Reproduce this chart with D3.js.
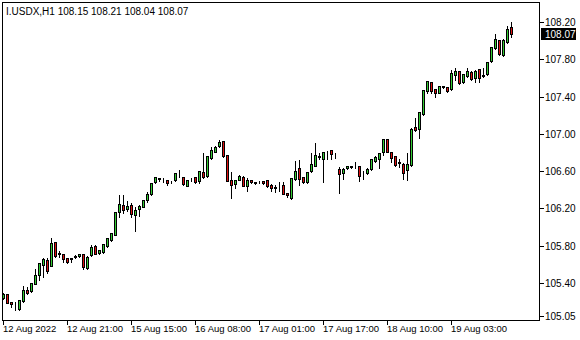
<!DOCTYPE html>
<html>
<head>
<meta charset="utf-8">
<script src="https://cdn.jsdelivr.net/npm/d3@7"></script>
<style>
  body { margin: 0; background: #fff; }
  text { font-family: "Liberation Sans", Arial, sans-serif; font-size: 9.5px; fill: #000; }
  .y-axis text, .title, .last-price { font-size: 10px; }
</style>
</head>
<body>
<div id="chart"></div>
<script>
// hourly bars, I.USDX H1
var opens = [
  105.24,105.28,105.20,105.19,105.12,105.21,105.33,105.31,105.39,105.49,
  105.59,105.65,105.58,105.84,105.71,105.71,105.67,105.66,105.68,105.69,
  105.71,105.56,105.70,105.80,105.72,105.73,105.80,105.86,105.92,106.16,
  106.24,106.19,106.24,106.13,106.19,106.22,106.29,106.35,106.48,106.53,
  106.51,106.50,106.49,106.50,106.56,106.54,106.44,106.52,106.54,106.49,
  106.59,106.55,106.74,106.81,106.87,106.92,106.77,106.50,106.46,106.51,
  106.54,106.44,106.50,106.48,106.48,106.49,106.50,106.45,106.43,106.43,
  106.45,106.36,106.31,106.52,106.63,106.54,106.48,106.60,106.66,106.75,
  106.73,106.80,106.83,106.76,106.62,106.58,106.63,106.66,106.65,106.66,
  106.57,106.58,106.62,106.71,106.73,106.80,106.94,106.81,106.76,106.69,
  106.68,106.61,106.67,107.07,107.05,107.21,107.46,107.56,107.48,107.44,
  107.50,107.50,107.48,107.63,107.67,107.56,107.62,107.66,107.60,107.70,
  107.62,107.64,107.78,107.92,108.01,107.85,107.99,108.15
];
var highs = [
  105.30,105.29,105.21,105.21,105.23,105.38,105.37,105.40,105.56,105.61,
  105.68,105.68,105.89,105.85,105.75,105.72,105.68,105.68,105.71,105.72,
  105.72,105.70,105.82,105.82,105.76,105.83,105.89,105.95,106.17,106.35,
  106.35,106.29,106.27,106.23,106.25,106.30,106.39,106.48,106.55,106.54,
  106.54,106.52,106.51,106.59,106.62,106.55,106.51,106.54,106.55,106.61,
  106.81,106.77,106.87,106.88,106.94,106.93,106.78,106.60,106.52,106.57,
  106.56,106.54,106.52,106.49,106.50,106.50,106.52,106.47,106.46,106.49,
  106.49,106.38,106.54,106.72,106.73,106.55,106.60,106.81,106.91,106.81,
  106.82,106.83,106.84,106.80,106.66,106.64,106.66,106.67,106.71,106.67,
  106.61,106.64,106.73,106.77,106.80,106.96,106.95,106.82,106.77,106.74,
  106.70,106.80,107.07,107.18,107.24,107.48,107.57,107.56,107.49,107.52,
  107.52,107.51,107.70,107.72,107.68,107.65,107.72,107.68,107.70,107.71,
  107.72,107.77,107.94,108.08,108.02,108.03,108.17,108.21
];
var lows = [
  105.23,105.18,105.14,105.11,105.11,105.20,105.28,105.30,105.39,105.43,
  105.46,105.51,105.58,105.68,105.68,105.63,105.61,105.63,105.67,105.68,
  105.55,105.55,105.69,105.71,105.71,105.72,105.79,105.85,105.91,106.11,
  106.15,106.17,106.11,105.96,106.12,106.21,106.27,106.34,106.47,106.49,
  106.48,106.45,106.47,106.49,106.54,106.45,106.44,106.49,106.47,106.47,
  106.53,106.54,106.73,106.80,106.86,106.75,106.49,106.31,106.42,106.50,
  106.44,106.39,106.47,106.46,106.47,106.46,106.43,106.39,106.38,106.39,
  106.35,106.32,106.30,106.51,106.45,106.47,106.47,106.59,106.65,106.73,
  106.48,106.73,106.73,106.74,106.37,106.52,106.62,106.63,106.63,106.49,
  106.52,106.57,106.61,106.70,106.63,106.77,106.80,106.70,106.65,106.64,
  106.52,106.51,106.65,107.03,106.96,107.20,107.44,107.44,107.39,107.44,
  107.49,107.45,107.47,107.58,107.54,107.55,107.61,107.58,107.56,107.56,
  107.61,107.63,107.77,107.91,107.85,107.83,107.98,108.04
];
var closes = [
  105.28,105.19,105.17,105.18,105.22,105.32,105.29,105.40,105.49,105.61,
  105.66,105.53,105.83,105.69,105.72,105.66,105.63,105.67,105.69,105.71,
  105.57,105.68,105.79,105.71,105.75,105.82,105.88,105.94,106.16,106.25,
  106.18,106.23,106.14,106.18,106.23,106.29,106.35,106.47,106.54,106.52,
  106.51,106.47,106.49,106.58,106.56,106.46,106.50,106.52,106.48,106.60,
  106.54,106.76,106.83,106.86,106.91,106.76,106.49,106.45,106.50,106.55,
  106.44,106.50,106.48,106.47,106.48,106.47,106.44,106.42,106.42,106.43,
  106.35,106.34,106.53,106.60,106.52,106.48,106.59,106.68,106.77,106.76,
  106.81,106.81,106.78,106.76,106.57,106.62,106.65,106.64,106.66,106.55,
  106.57,106.62,106.73,106.75,106.79,106.95,106.81,106.74,106.67,106.70,
  106.58,106.68,107.05,107.04,107.23,107.47,107.57,107.46,107.44,107.51,
  107.51,107.46,107.65,107.67,107.55,107.64,107.67,107.59,107.67,107.60,
  107.63,107.77,107.93,108.02,107.86,108.01,108.13,108.07
];

// axis labels
var priceTicks = [105.05, 105.40, 105.80, 106.20, 106.60, 107.00, 107.40, 107.80, 108.20];
var timeTickBars = [0, 16, 32, 48, 64, 80, 96, 112];
var timeTickLabels = ['12 Aug 2022', '12 Aug 21:00', '15 Aug 15:00', '16 Aug 08:00',
                      '17 Aug 01:00', '17 Aug 17:00', '18 Aug 10:00', '19 Aug 03:00'];
var title = 'I.USDX,H1  108.15 108.21 108.04 108.07';

var bars = opens.map(function(o, i) {
  return {i: i, o: o, h: highs[i], l: lows[i], c: closes[i]};
});

// size settings
var tot_width = 580, tot_height = 340;
var plot = {left: 2.5, top: 2.5, right: 539.5, bottom: 320.5};

var svg = d3.select('#chart').append('svg')
  .attr('width', tot_width)
  .attr('height', tot_height)
  .attr('shape-rendering', 'crispEdges');

var x = d3.scaleLinear().domain([0, bars.length - 1]).range([3.5, 3.5 + 4 * (bars.length - 1)]);
var y = d3.scaleLinear().domain([105.05, 108.20]).range([315.6, 22]);
function py(v) { return Math.round(y(v)) + 0.5; }

// frame
svg.append('rect')
  .attr('x', plot.left).attr('y', plot.top)
  .attr('width', plot.right - plot.left).attr('height', plot.bottom - plot.top)
  .attr('fill', 'none').attr('stroke', '#000');

// title
svg.append('text').attr('class', 'title').attr('x', 6).attr('y', 15).text(title);

// candles
var candles = svg.append('g').attr('class', 'candles');
var c = candles.selectAll('g.bar')
  .data(bars)
  .enter().append('g').attr('class', 'bar');

c.append('line')
  .attr('x1', function(d) { return x(d.i); })
  .attr('x2', function(d) { return x(d.i); })
  .attr('y1', function(d) { return py(d.h); })
  .attr('y2', function(d) { return py(d.l) + 0.5; })
  .attr('stroke', '#000');

c.append('rect')
  .attr('x', function(d) { return x(d.i) - 1; })
  .attr('width', 2)
  .attr('y', function(d) { return py(Math.max(d.o, d.c)); })
  .attr('height', function(d) { return py(Math.min(d.o, d.c)) - py(Math.max(d.o, d.c)); })
  .attr('fill', function(d) { return d.c >= d.o ? '#33cc33' : '#dd1111'; })
  .attr('stroke', '#000');

// y axis
var yAxis = svg.append('g').attr('class', 'y-axis');
yAxis.selectAll('line')
  .data(priceTicks).enter().append('line')
  .attr('x1', plot.right).attr('x2', plot.right + 4)
  .attr('y1', function(d) { return py(d); })
  .attr('y2', function(d) { return py(d); })
  .attr('stroke', '#000');
yAxis.selectAll('text')
  .data(priceTicks).enter().append('text')
  .attr('x', 545)
  .attr('y', function(d) { return py(d); })
  .attr('dy', '0.35em')
  .text(function(d) { return d.toFixed(2); });

// x axis
var xAxis = svg.append('g').attr('class', 'x-axis');
xAxis.selectAll('line')
  .data(timeTickBars).enter().append('line')
  .attr('x1', function(d) { return x(d); })
  .attr('x2', function(d) { return x(d); })
  .attr('y1', plot.bottom).attr('y2', plot.bottom + 4)
  .attr('stroke', '#000');
xAxis.selectAll('text')
  .data(timeTickBars).enter().append('text')
  .attr('x', function(d) { return x(d) - 0.5; })
  .attr('y', 332)
  .text(function(d, i) { return timeTickLabels[i]; });

// last price marker
var last = closes[closes.length - 1];
svg.append('rect')
  .attr('x', 541).attr('y', py(last) - 6.5)
  .attr('width', 35).attr('height', 12)
  .attr('fill', '#000');
svg.append('text')
  .attr('class', 'last-price')
  .attr('x', 545).attr('y', py(last))
  .attr('dy', '0.35em')
  .style('fill', '#fff')
  .text(last.toFixed(2));
</script>
</body>
</html>
